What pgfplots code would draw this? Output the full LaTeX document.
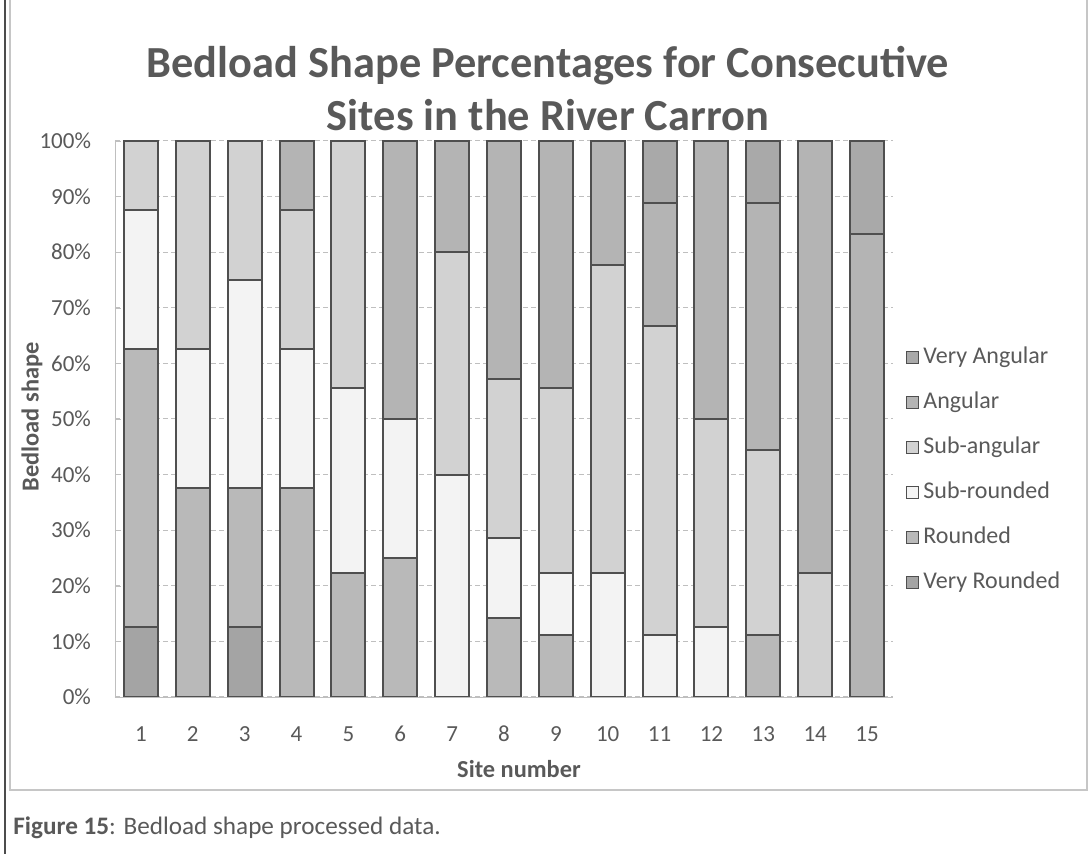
\documentclass[border=0pt]{standalone}
\usepackage{fontspec}
\setmainfont{Carlito}
\usepackage{pgfplots}
\pgfplotsset{compat=1.18}
\definecolor{txt}{HTML}{595959}
\definecolor{barline}{HTML}{4F4F4F}
\definecolor{cVR}{HTML}{A4A4A4}
\definecolor{cR}{HTML}{B9B9B9}
\definecolor{cSR}{HTML}{F3F3F3}
\definecolor{cSA}{HTML}{D2D2D2}
\definecolor{cA}{HTML}{B4B4B4}
\definecolor{cVA}{HTML}{A9A9A9}
\begin{document}
\begin{tikzpicture}
\useasboundingbox (0pt,0pt) rectangle (544pt,427pt);
% chart area border and page line
\draw[gray!45, line width=0.6pt] (5pt,435pt) -- (5pt,32pt) -- (543.5pt,32pt) -- (543.5pt,435pt);
\draw[gray!60!black, line width=1.4pt] (2.5pt,0pt) -- (2.5pt,427pt);
% caption
\node[anchor=base west, font=\fontsize{12.6}{15}\selectfont, text=txt, inner sep=0pt] at (6.5pt,9.5pt) {\textbf{Figure 15}: Bedload shape processed data.};
% title
\node[anchor=base, font=\fontsize{22.2}{26}\selectfont\bfseries, text=txt, inner sep=0pt] at (274pt,388pt) {Bedload Shape Percentages for Consecutive};
\node[anchor=base, font=\fontsize{22.2}{26}\selectfont\bfseries, text=txt, inner sep=0pt] at (274pt,361.5pt) {Sites in the River Carron};
% axis labels
\node[font=\fontsize{12.2}{14}\selectfont\bfseries, text=txt, rotate=90] at (16pt,218.5pt) {Bedload shape};
\node[anchor=base, font=\fontsize{12.2}{14}\selectfont\bfseries, text=txt, inner sep=0pt] at (259.5pt,38pt) {Site number};
\begin{axis}[
  at={(57.5pt,78.5pt)}, anchor=south west,
  scale only axis, width=389pt, height=278pt,
  ybar stacked, bar width=0.655,
  xmin=0.5, xmax=15.5, ymin=0, ymax=100,
  xtick={1,...,15},
  ytick={0,10,...,100},
  yticklabel={\pgfmathprintnumber{\tick}\%},
  /pgf/number format/assume math mode=true,
  tick label style={font=\fontsize{11.5}{14}\selectfont, text=txt},
  yticklabel style={xshift=-8.5pt},
  xticklabel style={anchor=north, text height=8pt, text depth=0pt, yshift=-10.5pt},
  axis x line*=bottom, axis y line*=left,
  axis line style={gray!50, -},
  major tick length=3pt,
  tick style={gray!50},
  xtick style={draw=none},
  ymajorgrids,
  major grid style={gray!50, dash pattern=on 2.5pt off 1.5pt, line width=0.5pt},
  every axis plot/.append style={draw=barline, line width=1pt},
  reverse legend,
  legend cell align=left,
  legend style={at={(1.008,0.408)}, anchor=west, draw=none, fill=none,
    font=\fontsize{12}{14}\selectfont, text=txt, row sep=10.2pt,
    nodes={inner sep=0.8pt, text height=8.3pt, text depth=2.4pt},
    /tikz/every odd column/.append style={column sep=1.5pt}},
  legend image code/.code={\draw[#1, line width=0.6pt] (0pt,-3pt) rectangle (6pt,3pt);},
]
\addplot[fill=cVR] coordinates {(1,12.5) (2,0) (3,12.5) (4,0) (5,0) (6,0) (7,0) (8,0) (9,0) (10,0) (11,0) (12,0) (13,0) (14,0) (15,0)};
\addplot[fill=cR] coordinates {(1,50) (2,37.5) (3,25) (4,37.5) (5,22.22) (6,25) (7,0) (8,14.29) (9,11.11) (10,0) (11,0) (12,0) (13,11.11) (14,0) (15,0)};
\addplot[fill=cSR] coordinates {(1,25) (2,25) (3,37.5) (4,25) (5,33.33) (6,25) (7,40) (8,14.29) (9,11.11) (10,22.22) (11,11.11) (12,12.5) (13,0) (14,0) (15,0)};
\addplot[fill=cSA] coordinates {(1,12.5) (2,37.5) (3,25) (4,25) (5,44.45) (6,0) (7,40) (8,28.57) (9,33.33) (10,55.56) (11,55.56) (12,37.5) (13,33.33) (14,22.22) (15,0)};
\addplot[fill=cA] coordinates {(1,0) (2,0) (3,0) (4,12.5) (5,0) (6,50) (7,20) (8,42.85) (9,44.45) (10,22.22) (11,22.22) (12,50) (13,44.45) (14,77.78) (15,83.33)};
\addplot[fill=cVA] coordinates {(1,0) (2,0) (3,0) (4,0) (5,0) (6,0) (7,0) (8,0) (9,0) (10,0) (11,11.11) (12,0) (13,11.11) (14,0) (15,16.67)};
\legend{Very Rounded, Rounded, Sub-rounded, Sub-angular, Angular, Very Angular}
\end{axis}
\end{tikzpicture}
\end{document}
